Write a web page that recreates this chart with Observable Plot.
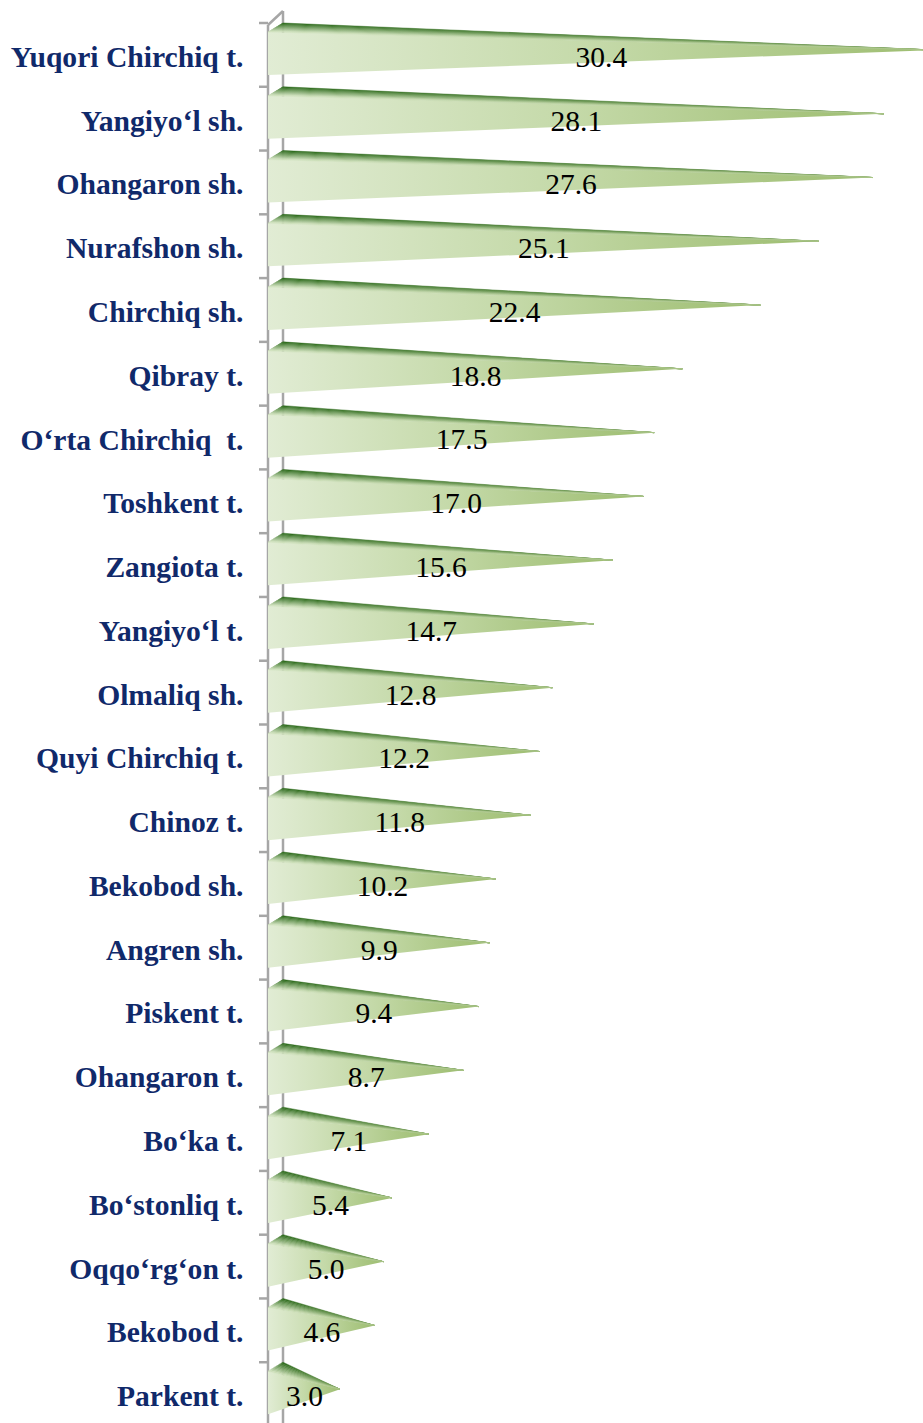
<!DOCTYPE html>
<html>
<head>
<meta charset="utf-8">
<script src="https://cdn.jsdelivr.net/npm/d3@7"></script>
<script src="https://cdn.jsdelivr.net/npm/@observablehq/plot@0.6"></script>
<style>
  html, body { margin: 0; padding: 0; background: white; overflow: hidden; }
  #chart svg { display: block; overflow: hidden; }
</style>
</head>
<body>
<div id="chart"></div>
<script>
const names = [
  "Yuqori Chirchiq t.", "Yangiyo‘l sh.", "Ohangaron sh.", "Nurafshon sh.", "Chirchiq sh.",
  "Qibray t.", "O‘rta Chirchiq  t.", "Toshkent t.", "Zangiota t.", "Yangiyo‘l t.",
  "Olmaliq sh.", "Quyi Chirchiq t.", "Chinoz t.", "Bekobod sh.", "Angren sh.",
  "Piskent t.", "Ohangaron t.", "Bo‘ka t.", "Bo‘stonliq t.", "Oqqo‘rg‘on t.",
  "Bekobod t.", "Parkent t."
];
const values = [30.4, 28.1, 27.6, 25.1, 22.4, 18.8, 17.5, 17.0, 15.6, 14.7, 12.8, 12.2, 11.8, 10.2, 9.9, 9.4, 8.7, 7.1, 5.4, 5.0, 4.6, 3.0];

const data = names.map((name, i) => ({name, value: values[i]}));

const FONT = "'Liberation Serif', 'Times New Roman', serif";
const N_STRIPS = 9;
const topLeft = d3.interpolateRgb("#2c6a1b", "#cfe1bd");
const topRight = d3.interpolateRgb("#6c9650", "#abc688");

// 3-D side wall with tick marks at category boundaries
function wall(index, scales, values, dims) {
  const g = d3.create("svg:g");
  const x0 = scales.x(0);
  const front = x0 - 7, back = x0 + 8;
  const top = scales.y(names[0]);
  const bottom = dims.height;
  const stroke = "#a6a6a6";
  g.append("line").attr("x1", back).attr("x2", back).attr("y1", top - 12).attr("y2", bottom)
    .attr("stroke", stroke).attr("stroke-width", 2.5);
  g.append("line").attr("x1", front).attr("x2", back).attr("y1", top + 2).attr("y2", top - 12)
    .attr("stroke", stroke).attr("stroke-width", 2.5);
  g.append("line").attr("x1", front).attr("x2", front).attr("y1", top + 2).attr("y2", bottom)
    .attr("stroke", stroke).attr("stroke-width", 2.5);
  for (const n of names) {
    const T = scales.y(n);
    g.append("line").attr("x1", front - 9).attr("x2", front).attr("y1", T).attr("y2", T)
      .attr("stroke", stroke).attr("stroke-width", 2.5);
  }
  return g.node();
}

// cone-shaped bars
function cones(index, scales, vals, dims) {
  const g = d3.create("svg:g");
  const defs = g.append("defs");
  const fg = defs.append("linearGradient").attr("id", "coneFront")
    .attr("x1", 0).attr("x2", 1).attr("y1", 0).attr("y2", 0);
  fg.append("stop").attr("offset", 0).attr("stop-color", "#e1ecd4");
  fg.append("stop").attr("offset", 0.5).attr("stop-color", "#c4d9a8");
  fg.append("stop").attr("offset", 1).attr("stop-color", "#9dbd70");
  for (let k = 0; k < N_STRIPS; k++) {
    const t = k / (N_STRIPS - 1);
    const lg = defs.append("linearGradient").attr("id", "coneTop" + k)
      .attr("x1", 0).attr("x2", 1).attr("y1", 0).attr("y2", 0);
    lg.append("stop").attr("offset", 0).attr("stop-color", topLeft(t));
    lg.append("stop").attr("offset", 1).attr("stop-color", topRight(t));
  }
  const x0 = scales.x(0);
  const front = x0 - 7, back = x0 + 8;
  for (const i of index) {
    const d = data[i];
    const T = scales.y(d.name);
    const tip = scales.x(d.value);
    const ay = T + 27;
    const BL = [back, T], FL = [front, T + 9], FB = [front, T + 52];
    g.append("path")
      .attr("d", `M${FL[0]},${FL[1]}L${FB[0]},${FB[1]}L${tip},${ay}Z`)
      .attr("fill", "url(#coneFront)");
    for (let k = 0; k < N_STRIPS; k++) {
      const t0 = k / N_STRIPS, t1 = (k + 1) / N_STRIPS;
      const p0 = [BL[0] + (FL[0] - BL[0]) * t0, BL[1] + (FL[1] - BL[1]) * t0];
      const p1 = [BL[0] + (FL[0] - BL[0]) * t1, BL[1] + (FL[1] - BL[1]) * t1];
      g.append("path")
        .attr("d", `M${p0[0]},${p0[1]}L${p1[0]},${p1[1]}L${tip},${ay}Z`)
        .attr("fill", `url(#coneTop${k})`)
        .attr("stroke", `url(#coneTop${k})`)
        .attr("stroke-width", 0.5);
    }
  }
  return g.node();
}

const chart = Plot.plot({
  width: 923,
  height: 1423,
  marginLeft: 275,
  marginRight: 0,
  marginTop: 23,
  marginBottom: -3,
  style: {fontFamily: FONT, background: "white", overflow: "hidden"},
  x: {domain: [0, 30], range: [275, 925], axis: null},
  y: {domain: names, padding: 0, round: false, axis: null},
  marks: [
    Plot.ruleX([0], {render: wall}),
    Plot.barX(data, {x: "value", y: "name", render: cones}),
    Plot.text(data, {
      x: d => d.value / 2, y: "name", text: d => d.value.toFixed(1),
      dx: -3.5, dy: 2, fontSize: 29.5, fill: "black", fontFamily: FONT
    }),
    Plot.axisY({
      tickSize: 0, tickPadding: 32, fontSize: 29.6, fontWeight: "bold",
      color: "#10296a", dy: 2, fontFamily: FONT, label: null
    })
  ]
});
document.getElementById("chart").appendChild(chart);
</script>
</body>
</html>
